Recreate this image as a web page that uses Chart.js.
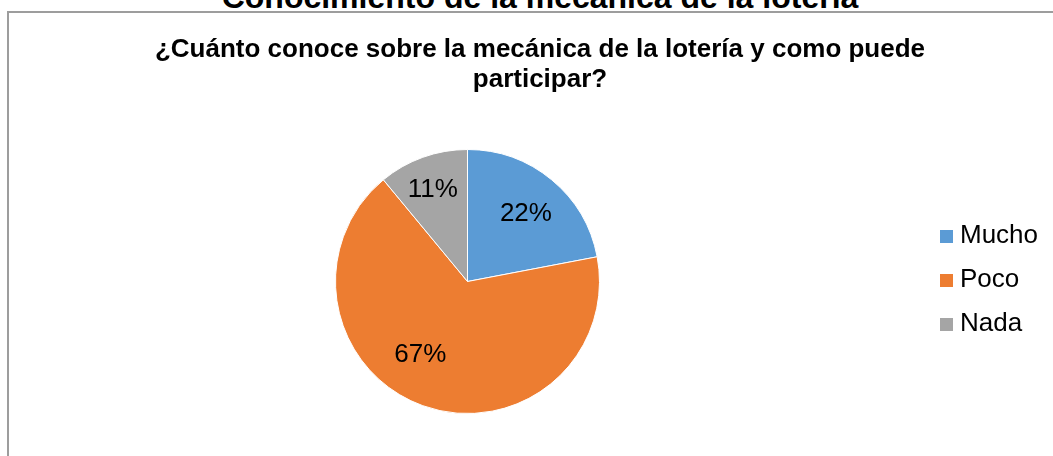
<!DOCTYPE html>
<html lang="es">
<head>
<meta charset="utf-8">
<title>Conocimiento de la mecánica de la lotería</title>
<script src="https://cdn.jsdelivr.net/npm/chart.js@4.4.1/dist/chart.umd.min.js"></script>
<style>
  html, body { margin: 0; padding: 0; background: #fff; overflow: hidden; width: 1053px; height: 456px; }
  #frame { position: absolute; left: 7px; top: 11px; width: 1100px; height: 500px; border: 2px solid #9d9d9d; }
  #heading { position: absolute; left: 0; top: -19px; width: 1080px; text-align: center; white-space: nowrap;
             font: bold 32px/32px "Liberation Sans", Arial, sans-serif; color: #000; }
  #wrap { position: absolute; left: 0; top: 0; width: 1080px; height: 414px; }
</style>
</head>
<body>
<div id="frame"></div>
<div id="heading">Conocimiento de la mecánica de la lotería</div>
<div id="wrap"><canvas id="chart" width="1080" height="414"></canvas></div>
<script>
// Survey answers and their shares (percent)
const categories = ['Mucho', 'Poco', 'Nada'];
const percentages = [22, 67, 11];
const sliceColors = ['#5B9BD5', '#ED7D31', '#A5A5A5'];
const chartTitle = ['¿Cuánto conoce sobre la mecánica de la lotería y como puede', 'participar?'];

const FONT = '"Liberation Sans", Arial, sans-serif';

// Where each percentage label sits inside its slice: angular nudge (deg) and fraction of the radius
const labelPlacement = [
  { shift: 1, radius: 0.68 },
  { shift: 13, radius: 0.66 },
  { shift: -1, radius: 0.74 }
];

// Legend look
const legendStyle = { width: 145, inset: 5, box: 13, gap: 7, rowGap: 44, shiftY: -1.5, font: '26px ' + FONT };

// Legend drawn as a layout box on the right side of the chart area
const sideLegend = {
  id: 'sideLegend',
  beforeInit(chart) {
    const box = {
      position: 'right', weight: 1000, fullSize: false, options: {},
      left: 0, top: 0, right: 0, bottom: 0, width: 0, height: 0,
      isHorizontal() { return false; },
      update(maxWidth, maxHeight) { this.width = legendStyle.width; this.height = maxHeight; },
      draw() {
        const ctx = chart.ctx;
        const ds = chart.data.datasets[0];
        const n = chart.data.labels.length;
        const midY = (this.top + this.bottom) / 2 + legendStyle.shiftY;
        const x = this.left + legendStyle.inset;
        ctx.save();
        ctx.font = legendStyle.font;
        ctx.textAlign = 'left';
        ctx.textBaseline = 'middle';
        chart.data.labels.forEach((label, i) => {
          const y = midY + (i - (n - 1) / 2) * legendStyle.rowGap;
          ctx.fillStyle = ds.backgroundColor[i];
          ctx.fillRect(x, Math.round(y - legendStyle.box / 2), legendStyle.box, legendStyle.box);
          ctx.fillStyle = '#000';
          ctx.fillText(label, x + legendStyle.box + legendStyle.gap, y);
        });
        ctx.restore();
      }
    };
    if (Chart.layouts && Chart.layouts.addBox) {
      Chart.layouts.addBox(chart, box);
    } else {
      box._layers = () => [{ z: 0, draw() { box.draw(); } }];
      (chart.boxes = chart.boxes || []).push(box);
    }
  }
};

// Percentage labels inside the slices
const sliceLabels = {
  id: 'sliceLabels',
  afterDatasetsDraw(chart) {
    const ctx = chart.ctx;
    const meta = chart.getDatasetMeta(0);
    const values = chart.data.datasets[0].data;
    ctx.save();
    ctx.font = '26px ' + FONT;
    ctx.fillStyle = '#000';
    ctx.textAlign = 'center';
    ctx.textBaseline = 'middle';
    meta.data.forEach((arc, i) => {
      const p = arc.getProps(['x', 'y', 'startAngle', 'endAngle', 'outerRadius'], true);
      const place = labelPlacement[i];
      const a = (p.startAngle + p.endAngle) / 2 + place.shift * Math.PI / 180;
      const r = p.outerRadius * place.radius;
      ctx.fillText(values[i] + '%', p.x + Math.cos(a) * r, p.y + Math.sin(a) * r);
    });
    ctx.restore();
  }
};

new Chart(document.getElementById('chart'), {
  type: 'pie',
  data: {
    labels: categories,
    datasets: [{
      data: percentages,
      backgroundColor: sliceColors,
      borderColor: '#ffffff',
      borderWidth: 1
    }]
  },
  options: {
    responsive: false,
    animation: false,
    layout: { padding: 0 },
    plugins: {
      legend: { display: false },
      tooltip: { enabled: false },
      title: {
        display: true,
        text: chartTitle,
        color: '#000',
        font: { family: FONT, size: 26, weight: 'bold', lineHeight: '30px' },
        padding: { top: 35, bottom: 54 }
      }
    }
  },
  plugins: [sideLegend, sliceLabels]
});
</script>
</body>
</html>
